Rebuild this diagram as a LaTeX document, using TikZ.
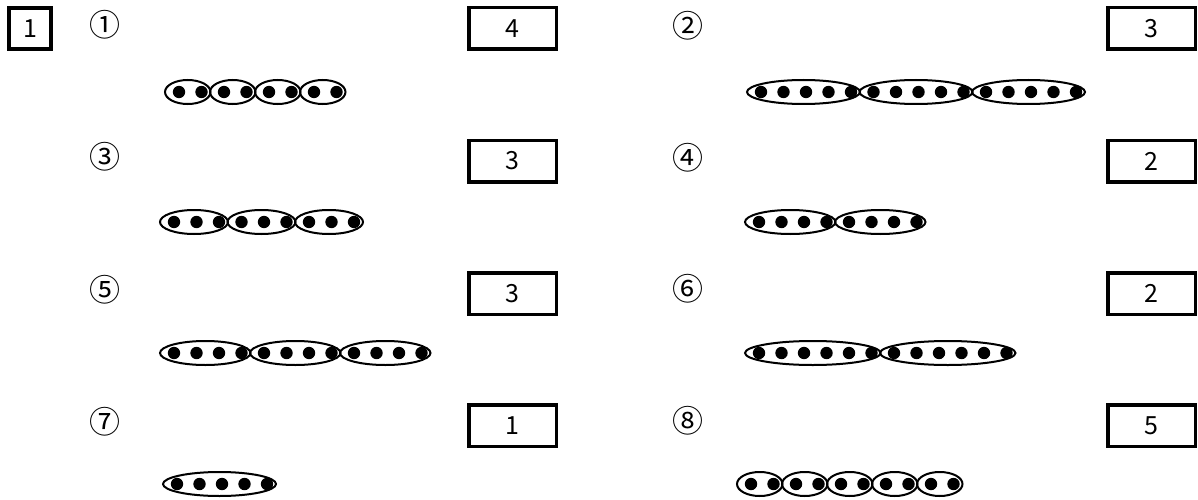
\documentclass[tikz,border=0pt]{standalone}
\usepackage{fontspec}
\setmainfont{Noto Sans CJK JP}
\newcommand\dotrow[4]{% #1 first dot x, #2 y, #3 groups, #4 dots per group
  \pgfmathtruncatemacro\tot{#3*#4-1}
  \foreach \g in {1,...,#3}{
    \pgfmathsetmacro\cx{#1+((\g-1)*#4+(#4-1)/2)*22.5-2.5}
    \pgfmathsetmacro\rx{((#4-1)*22.5+23)/2}
    \draw[grp] (\cx,#2) ellipse [x radius=\rx pt, y radius=12pt];
  }
  \foreach \i in {0,...,\tot}{
    \fill (#1+\i*22.5,#2) circle [radius=6.2pt];
  }
}
\begin{document}
\begin{tikzpicture}[x=1pt,y=-1pt,
  ansbox/.style={draw, line width=3.5pt, minimum width=87.5pt, minimum height=41.5pt,
                 inner sep=0pt, font=\fontsize{25}{25}\selectfont},
  numlabel/.style={inner sep=0pt, font=\fontsize{31}{31}\selectfont},
  grp/.style={line width=2pt}]
\useasboundingbox (0,0) rectangle (1198,500);

% problem number
\node[draw, line width=3.8pt, minimum width=42.5pt, minimum height=41.5pt, inner sep=0pt,
      font=\fontsize{25}{25}\selectfont] (prob) at (30,28.5) {1};

% labels
\node[numlabel] (l1) at (105,25)  {①};
\node[numlabel] (l3) at (105,157) {③};
\node[numlabel] (l5) at (105,290) {⑤};
\node[numlabel] (l7) at (105,422) {⑦};
\node[numlabel] (l2) at (688,26)  {②};
\node[numlabel] (l4) at (688,158) {④};
\node[numlabel] (l6) at (688,289) {⑥};
\node[numlabel] (l8) at (688,421) {⑧};

% answer boxes
\node[ansbox] (a1) at (512.5,28.5)  {4};
\node[ansbox] (a3) at (512.5,161)   {3};
\node[ansbox] (a5) at (512.5,293.5) {3};
\node[ansbox] (a7) at (512.5,425.5) {1};
\node[ansbox] (a2) at (1151.5,28.5) {3};
\node[ansbox] (a4) at (1151.5,161)  {2};
\node[ansbox] (a6) at (1151.5,293.5){2};
\node[ansbox] (a8) at (1151.5,425.5){5};

% dot groups
\dotrow{179}{92}{4}{2}
\dotrow{174}{222}{3}{3}
\dotrow{174}{353}{3}{4}
\dotrow{177}{484}{1}{5}
\dotrow{761}{92}{3}{5}
\dotrow{759}{222}{2}{4}
\dotrow{759}{353}{2}{6}
\dotrow{751}{484}{5}{2}
\end{tikzpicture}
\end{document}
